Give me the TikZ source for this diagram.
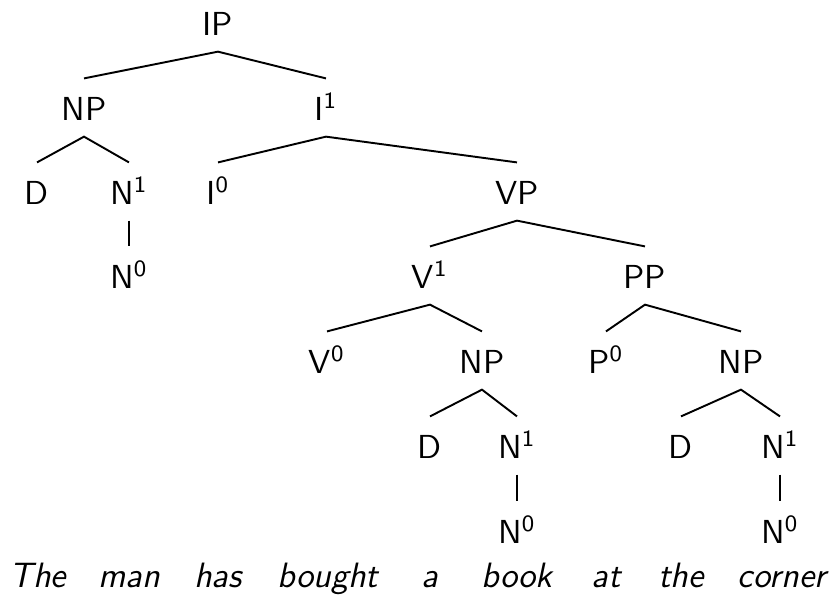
\documentclass[tikz,border=0pt]{standalone}
\begin{document}
\begin{tikzpicture}[x=0.3125pt, y=-0.3125pt, font=\sffamily\fontsize{10.4}{12.5}\selectfont,
  lbl/.style={anchor=base, inner xsep=0pt, inner ysep=2.5pt, text height=10.3pt, text depth=2.5pt},
  word/.style={anchor=base, inner sep=0pt, font=\sffamily\itshape\fontsize{11}{13}\selectfont},
  br/.style={line width=0.6pt}]
\useasboundingbox (0,0) rectangle (830,597);
% labels
\node[lbl] (IP)  at (218,35)  {IP};
\node[lbl] (NPa) at (84,120)  {NP};
\node[lbl] (Ib)  at (326,120) {I\textsuperscript{1}};
\node[lbl] (Da)  at (37,204)  {D};
\node[lbl] (Na)  at (129,204) {N\textsuperscript{1}};
\node[lbl] (Io)  at (218,204) {I\textsuperscript{0}};
\node[lbl] (VP)  at (517,204) {VP};
\node[lbl] (Nao) at (129,288) {N\textsuperscript{0}};
\node[lbl] (Vb)  at (430,288) {V\textsuperscript{1}};
\node[lbl] (PP)  at (645,288) {PP};
\node[lbl] (Vo)  at (327,373) {V\textsuperscript{0}};
\node[lbl] (NPb) at (482,373) {NP};
\node[lbl] (Po)  at (606,373) {P\textsuperscript{0}};
\node[lbl] (NPc) at (741,373) {NP};
\node[lbl] (Db)  at (430,458) {D};
\node[lbl] (Nb)  at (517,458) {N\textsuperscript{1}};
\node[lbl] (Dc)  at (681,458) {D};
\node[lbl] (Nc)  at (780,458) {N\textsuperscript{1}};
\node[lbl] (Nbo) at (517,543) {N\textsuperscript{0}};
\node[lbl] (Nco) at (780,543) {N\textsuperscript{0}};
% words
\node[word] (w1) at (38,587)  {The};
\node[word] (w2) at (129,587) {man};
\node[word] (w3) at (218,587) {has};
\node[word] (w4) at (328,587) {bought};
\node[word] (w5) at (430,587) {a};
\node[word] (w6) at (517,587) {book};
\node[word] (w7) at (606,587) {at};
\node[word] (w8) at (681,587) {the};
\node[word] (w9) at (782,587) {corner};
% branches
\draw[br] (NPa.north) -- (IP.south) -- (Ib.north);
\draw[br] (Da.north) -- (NPa.south) -- (Na.north);
\draw[br] (Na.south) -- (Nao.north);
\draw[br] (Io.north) -- (Ib.south) -- (VP.north);
\draw[br] (Vb.north) -- (VP.south) -- (PP.north);
\draw[br] (Vo.north) -- (Vb.south) -- (NPb.north);
\draw[br] (Po.north) -- (PP.south) -- (NPc.north);
\draw[br] (Db.north) -- (NPb.south) -- (Nb.north);
\draw[br] (Dc.north) -- (NPc.south) -- (Nc.north);
\draw[br] (Nb.south) -- (Nbo.north);
\draw[br] (Nc.south) -- (Nco.north);
\end{tikzpicture}
\end{document}
